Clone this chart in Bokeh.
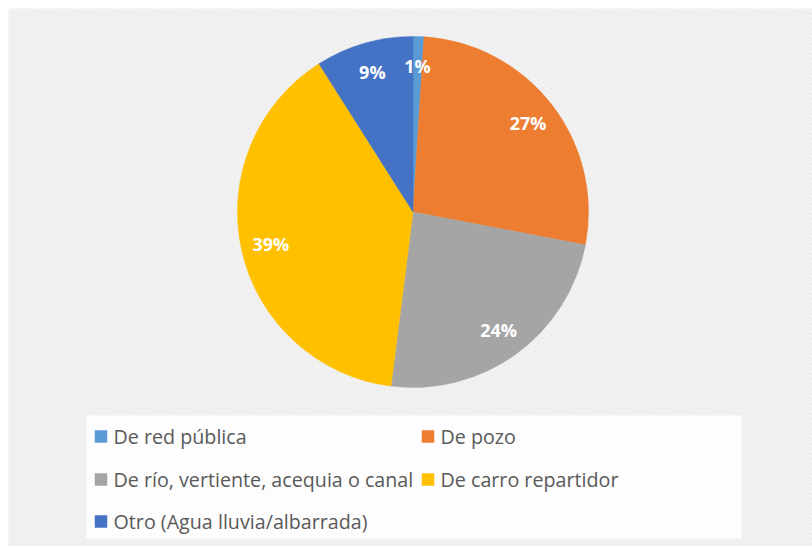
import numpy as np
from bokeh.plotting import figure
from bokeh.models import ColumnDataSource, Range1d
from bokeh.core.properties import value
from bokeh.embed import file_html
from bokeh.resources import INLINE

# ---- data ----
categories = ["De red pública", "De pozo", "De río, vertiente, acequia o canal",
              "De carro repartidor", "Otro (Agua lluvia/albarrada)"]
values = [1, 27, 24, 39, 9]
colors = ["#5B9BD5", "#ED7D31", "#A5A5A5", "#FFC000", "#4472C4"]
labels = [f"{v}%" for v in values]

# ---- layout (1 data unit = 1 px) ----
W, H = 812, 546
cx, cy, R = 412.5, 334.5, 175.5
LABEL_FRAC = 0.83

vals = np.array(values, dtype=float)
frac = vals / vals.sum()
cum = np.concatenate([[0.0], np.cumsum(frac)])
start = np.pi / 2 - cum[:-1] * 2 * np.pi
end = np.pi / 2 - cum[1:] * 2 * np.pi
mid = (start + end) / 2

p = figure(width=W, height=H, output_backend="svg", toolbar_location=None,
           x_range=Range1d(0, W), y_range=Range1d(0, H),
           min_border=0, min_border_left=0, min_border_right=0,
           min_border_top=0, min_border_bottom=0)
p.axis.visible = False
p.grid.visible = False
p.outline_line_color = None
p.background_fill_color = "#ffffff"
p.border_fill_color = "#ffffff"

# hatched chart background
p.quad(left=[8], right=[W], bottom=[0], top=[538], fill_color="#fafafa",
       line_color=None, hatch_pattern="left_diagonal_line",
       hatch_color="#ebebeb", hatch_scale=5, hatch_weight=1.5)

# pie
src = ColumnDataSource(dict(start=start, end=end, color=colors, cat=categories))
p.wedge(x=cx, y=cy, radius=R, start_angle="start", end_angle="end",
        direction="clock", fill_color="color", line_color="color",
        line_width=0.5, source=src)

# data labels
lsrc = ColumnDataSource(dict(x=cx + LABEL_FRAC * R * np.cos(mid),
                             y=cy + LABEL_FRAC * R * np.sin(mid),
                             t=labels))
p.text(x="x", y="y", text="t", source=lsrc, text_color="white",
       text_font=value("Open Sans"), text_font_style="bold",
       text_font_size="18px", text_align="center", text_baseline="middle")

# legend box
p.quad(left=[86], right=[741], bottom=[8], top=[131], fill_color="white",
       fill_alpha=0.85, line_color=None)

n = len(categories)
rows = np.arange(n) // 2
cols = np.arange(n) % 2
row_y = np.array([110.0, 67.0, 25.0])
col_sq = np.array([100.5, 427.5])
col_tx = np.array([113.0, 440.0])
legsrc = ColumnDataSource(dict(sx=col_sq[cols], tx=col_tx[cols], y=row_y[rows],
                               color=colors, cat=categories))
p.rect(x="sx", y="y", width=12.5, height=12.5, fill_color="color",
       line_color=None, source=legsrc)
p.text(x="tx", y="y", text="cat", source=legsrc, text_color="#595959",
       text_font=value("Open Sans"), text_font_size="19.7px",
       text_align="left", text_baseline="middle")

open("out.html", "w").write(file_html(p, INLINE))
